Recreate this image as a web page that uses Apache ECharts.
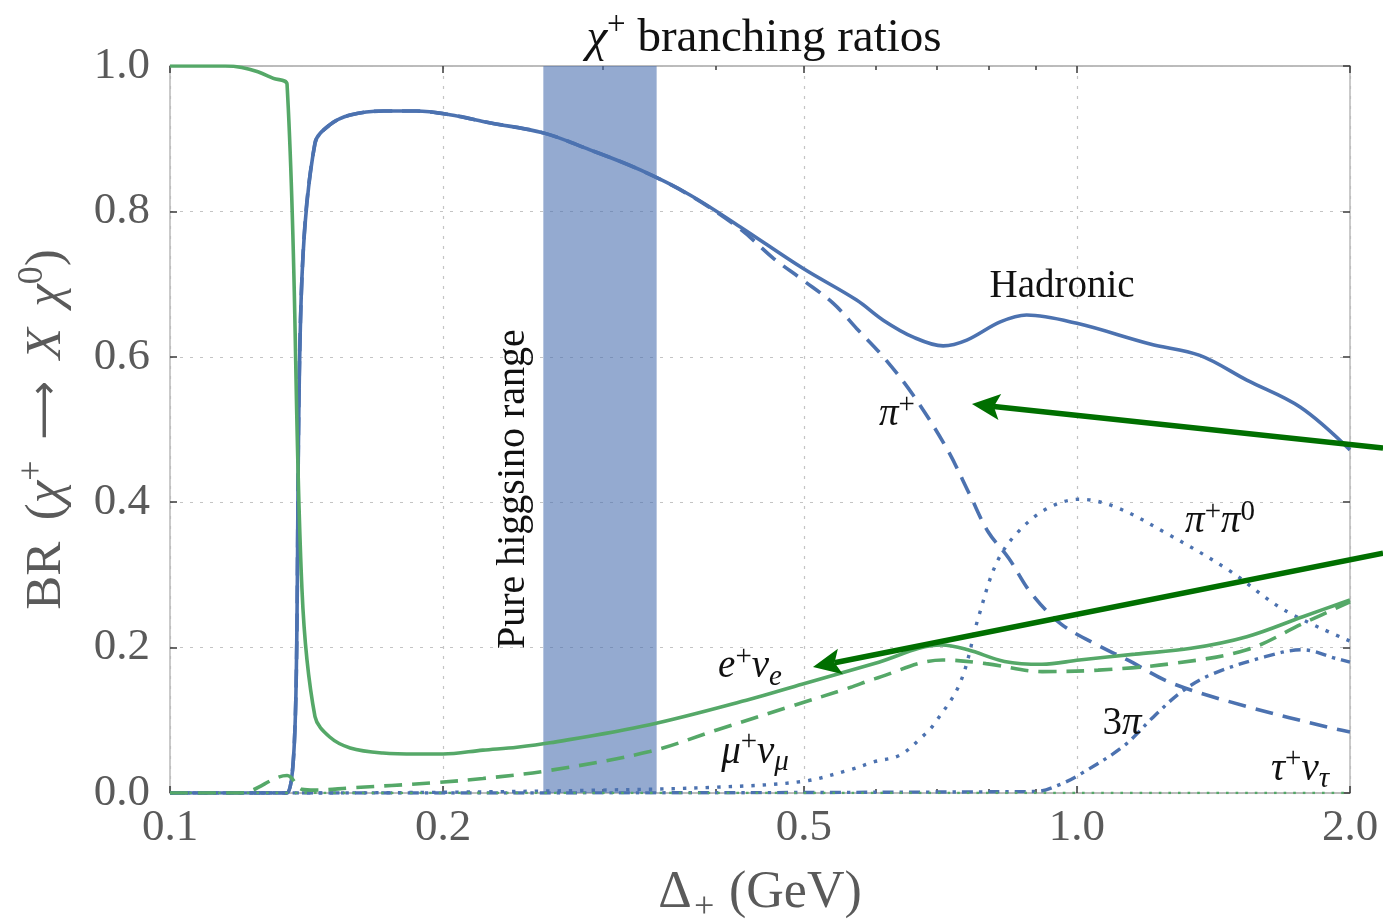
<!DOCTYPE html>
<html>
<head>
<meta charset="utf-8">
<script src="https://cdn.jsdelivr.net/npm/echarts@6/dist/echarts.min.js"></script>
<style>
html,body{margin:0;padding:0;background:#ffffff;}
#chart{width:1383px;height:923px;}
</style>
</head>
<body>
<div id="chart"></div>
<script>
// ---- data (x = Δ+ in GeV, y = branching ratio) ----
const hadronic = [[0.1,0],[0.1346,0],[0.1398,0.71],[0.1445,0.894],[0.150,0.919],[0.158,0.9326],[0.172,0.938],[0.187,0.938],[0.2035,0.933],[0.225,0.922],[0.258,0.908],[0.29,0.885],[0.33,0.857],[0.3744,0.8226],[0.425,0.779],[0.4986,0.7217],[0.5715,0.678],[0.612,0.65],[0.66,0.627],[0.712,0.615],[0.756,0.623],[0.823,0.648],[0.88,0.6575],[1.0,0.646],[1.204,0.6176],[1.366,0.602],[1.539,0.568],[1.762,0.531],[2.0,0.472]];
const piPlus = [[0.1,0],[0.1346,0],[0.1398,0.71],[0.1445,0.894],[0.150,0.919],[0.158,0.9326],[0.172,0.938],[0.187,0.938],[0.2035,0.933],[0.225,0.922],[0.258,0.908],[0.29,0.885],[0.33,0.857],[0.3744,0.822],[0.425,0.776],[0.4627,0.7355],[0.4986,0.7056],[0.5387,0.6735],[0.5715,0.639],[0.6115,0.600],[0.660,0.547],[0.718,0.4746],[0.762,0.41],[0.798,0.3594],[0.841,0.323],[0.890,0.275],[0.959,0.233],[1.044,0.206],[1.137,0.183],[1.273,0.151],[1.539,0.119],[1.913,0.089],[2.0,0.084]];
const piPiZero = [[0.1,0],[0.1398,0],[0.2,0.001],[0.3,0.004],[0.4,0.008],[0.4986,0.016],[0.562,0.032],[0.598,0.043],[0.638,0.052],[0.676,0.078],[0.694,0.093],[0.743,0.151],[0.779,0.2425],[0.815,0.316],[0.858,0.357],[0.926,0.391],[1.006,0.404],[1.1,0.394],[1.26,0.356],[1.468,0.307],[1.691,0.252],[2.0,0.209]];
const threePi = [[0.1,0],[0.1398,0],[0.9,0.002],[0.959,0.012],[1.015,0.028],[1.127,0.065],[1.215,0.105],[1.30,0.138],[1.40,0.162],[1.613,0.1875],[1.774,0.197],[1.931,0.185],[2.0,0.18]];
const eNu = [[0.1,1.0],[0.115,1.0],[0.12,0.998],[0.125,0.992],[0.13,0.983],[0.1346,0.975],[0.1398,0.28],[0.1445,0.105],[0.150,0.077],[0.158,0.062],[0.1717,0.055],[0.1872,0.0536],[0.2,0.0536],[0.2213,0.059],[0.2413,0.063],[0.2624,0.069],[0.338,0.094],[0.436,0.129],[0.4986,0.150],[0.598,0.178],[0.709,0.2036],[0.758,0.197],[0.832,0.181],[0.915,0.177],[1.006,0.183],[1.159,0.191],[1.336,0.199],[1.539,0.215],[1.774,0.2425],[2.0,0.2655]];
const muNu = [[0.1,0],[0.1194,0],[0.1346,0.024],[0.1398,0.005],[0.1445,0.004],[0.158,0.007],[0.195,0.014],[0.2213,0.02],[0.262,0.031],[0.338,0.057],[0.4007,0.0867],[0.483,0.119],[0.562,0.145],[0.598,0.157],[0.711,0.183],[0.794,0.178],[0.915,0.167],[1.055,0.169],[1.273,0.178],[1.539,0.197],[1.774,0.233],[2.0,0.263]];
const tauNu = [[0.1,0],[2.0,0]];
const higgsinoRange = [0.258, 0.344];
const xMajorTicks = [0.1, 0.2, 0.5, 1.0, 2.0];
const xMinorTicks = [0.3, 0.4, 0.6, 0.7, 0.8, 0.9];
const yTicks = [0, 0.2, 0.4, 0.6, 0.8, 1.0];

// ---- style ----
const BLUE = '#4C72B0', GREEN = '#55A868', ARROW = '#006f00';
const SERIF = 'Liberation Serif';
const LABEL_GRAY = '#5a5a5a';
const FRAME = '#b8b8b8';
const TICK = '#3a3a3a';
const SMOOTH = 0.35;
const LW = 3.6;

function richSet(size, color, supRatio, spRatio) {
  const s = Math.round(size * (supRatio || 0.7));
  return {
    r: {fontFamily: SERIF, fontWeight: 'normal', fontSize: size, lineHeight: size * 1.25, color: color},
    m: {fontFamily: SERIF, fontWeight: 'normal', fontStyle: 'italic', fontSize: size, lineHeight: size * 1.25, color: color},
    ar: {fontFamily: 'DejaVu Sans', fontWeight: 'normal', fontSize: size * 0.8, lineHeight: size * 1.25, color: color},
    sp: {fontFamily: SERIF, fontSize: size, lineHeight: size * 1.25, width: size * (spRatio || 0.3), color: color},
    sup: {fontFamily: SERIF, fontWeight: 'normal', fontSize: s, lineHeight: s, verticalAlign: 'top', color: color},
    sub: {fontFamily: SERIF, fontWeight: 'normal', fontStyle: 'italic', fontSize: s, lineHeight: s, verticalAlign: 'bottom', color: color}
  };
}

const gridBox = {left: 170, right: 33, top: 66, bottom: 130, containLabel: false, outerBoundsMode: 'none'};

function xAxisBase(pos, ticks, len, extra) {
  return Object.assign({
    type: 'log', logBase: 10, min: 0.1, max: 2.0, gridIndex: 0, position: pos,
    axisLine: {show: true, onZero: false, lineStyle: {color: FRAME, width: 1.5}},
    axisTick: {show: true, inside: true, length: len, customValues: ticks, lineStyle: {color: TICK, width: 1.5}},
    axisLabel: {show: false},
    splitLine: {show: false}
  }, extra || {});
}

const option = {
  backgroundColor: '#ffffff',
  animation: false,
  title: {
    text: '{m|χ}{sup|+}{r| branching ratios}',
    left: 759, top: 4, textAlign: 'center',
    textStyle: {fontWeight: 'normal', rich: richSet(47, '#111111')}
  },
  grid: [gridBox, Object.assign({}, gridBox)],
  xAxis: [
    xAxisBase('bottom', xMajorTicks, 7, {
      axisLabel: {show: true, customValues: xMajorTicks, formatter: v => Number(v).toFixed(1),
        fontFamily: SERIF, fontSize: 45, color: LABEL_GRAY, margin: 13},
      splitLine: {show: true, lineStyle: {color: '#c4c4c4', width: 1.2, type: [3, 7]}},
      name: '{r|Δ}{sub|+}{r| (GeV)}', nameLocation: 'middle', nameGap: 68,
      nameTextStyle: {rich: richSet(52, LABEL_GRAY)}
    }),
    xAxisBase('top', xMajorTicks, 7),
    Object.assign(xAxisBase('bottom', xMinorTicks, 4), {gridIndex: 1}),
    Object.assign(xAxisBase('top', xMinorTicks, 4), {gridIndex: 1})
  ],
  yAxis: [
    {
      type: 'value', min: 0, max: 1, interval: 0.2, gridIndex: 0, position: 'left',
      axisLine: {show: true, onZero: false, lineStyle: {color: FRAME, width: 1.5}},
      axisTick: {show: true, inside: true, length: 7, lineStyle: {color: TICK, width: 1.5}},
      axisLabel: {formatter: v => v.toFixed(1), fontFamily: SERIF, fontSize: 45, color: LABEL_GRAY, margin: 20},
      splitLine: {show: true, lineStyle: {color: '#c4c4c4', width: 1.2, type: [3, 7]}},
      name: '{r|BR}{sp|}{r|(}{m|χ}{sup|+}{sp|}{ar|⟶}{sp|}{m|X}{sp|}{m|χ}{sup|0}{r|)}', nameLocation: 'middle', nameGap: 92,
      nameTextStyle: {rich: richSet(51, LABEL_GRAY, 0.7, 0.42)}
    },
    {
      type: 'value', min: 0, max: 1, interval: 0.2, gridIndex: 0, position: 'right',
      axisLine: {show: true, onZero: false, lineStyle: {color: FRAME, width: 1.5}},
      axisTick: {show: true, inside: true, length: 7, lineStyle: {color: TICK, width: 1.5}},
      axisLabel: {show: false}, splitLine: {show: false}
    },
    {type: 'value', min: 0, max: 1, gridIndex: 1, show: false}
  ],
  series: [
    {
      name: 'Hadronic', type: 'line', xAxisIndex: 0, yAxisIndex: 0, data: hadronic,
      showSymbol: false, smooth: SMOOTH, z: 3,
      lineStyle: {color: BLUE, width: LW},
      markArea: {silent: true, z: 1, itemStyle: {color: BLUE, opacity: 0.6},
        data: [[{xAxis: higgsinoRange[0]}, {xAxis: higgsinoRange[1]}]]}
    },
    {
      name: 'π+', type: 'line', data: piPlus, showSymbol: false, smooth: SMOOTH, z: 3,
      lineStyle: {color: BLUE, width: LW, type: [18, 10]}
    },
    {
      name: 'π+π0', type: 'line', data: piPiZero, showSymbol: false, smooth: SMOOTH, z: 3,
      lineStyle: {color: BLUE, width: 3.4, type: [3.4, 8]}
    },
    {
      name: '3π', type: 'line', data: threePi, showSymbol: false, smooth: SMOOTH, z: 3,
      lineStyle: {color: BLUE, width: 3.4, type: [11, 6, 3.4, 6]}
    },
    {
      name: 'e+νe', type: 'line', data: eNu, showSymbol: false, smooth: SMOOTH, z: 3,
      lineStyle: {color: GREEN, width: LW}
    },
    {
      name: 'μ+νμ', type: 'line', data: muNu, showSymbol: false, smooth: SMOOTH, z: 3,
      lineStyle: {color: GREEN, width: LW, type: [18, 10]}
    },
    {
      name: 'τ+ντ', type: 'line', data: tauNu, showSymbol: false, z: 3,
      lineStyle: {color: GREEN, width: 2.6, type: [2.6, 7]}
    }
  ]
};

const chart = echarts.init(document.getElementById('chart'), null, {renderer: 'canvas'});
chart.setOption(option);

// ---- annotations placed in data coordinates ----
const P = (x, y) => chart.convertToPixel({gridIndex: 0}, [x, y]);
const labels = [
  {at: [0.963, 0.696], text: '{r|Hadronic}'},
  {at: [0.633, 0.52], text: '{m|π}{sup|+}'},
  {at: [1.438, 0.373], text: '{m|π}{sup|+}{m|π}{sup|0}'},
  {at: [0.436, 0.173], text: '{m|e}{sup|+}{m|ν}{sub|e}'},
  {at: [0.4416, 0.056], text: '{m|μ}{sup|+}{m|ν}{sub|μ}'},
  {at: [1.121, 0.095], text: '{r|3}{m|π}'},
  {at: [1.762, 0.032], text: '{m|τ}{sup|+}{m|ν}{sub|τ}'}
];
const arrows = [
  {from: [2.175, 0.4746], to: [0.766, 0.535]},
  {from: [2.175, 0.330], to: [0.5116, 0.1733]}
];

function gRich(size, color) {
  const rs = richSet(size, color, 0.74);
  const out = {};
  Object.keys(rs).forEach(k => {
    const o = Object.assign({}, rs[k]);
    o.fill = o.color; delete o.color;
    out[k] = o;
  });
  return out;
}

const graphics = [];
labels.forEach(l => {
  const p = P(l.at[0], l.at[1]);
  graphics.push({type: 'text', x: p[0], y: p[1], z: 10,
    style: {text: l.text, rich: gRich(39, '#111111'), align: 'center', verticalAlign: 'middle'}});
});
{
  const p = P(0.2389, 0.418);
  graphics.push({type: 'text', x: p[0], y: p[1], rotation: Math.PI / 2, z: 10,
    style: {text: 'Pure higgsino range', fontFamily: SERIF, fontSize: 40, fill: '#111111', align: 'center', verticalAlign: 'middle'}});
}
arrows.forEach(a => {
  const s = P(a.from[0], a.from[1]), t = P(a.to[0], a.to[1]);
  const dx = t[0] - s[0], dy = t[1] - s[1], len = Math.hypot(dx, dy);
  const ux = dx / len, uy = dy / len, nx = -uy, ny = ux;
  const L = 28, W = 13, N = 6;
  const bx = t[0] - ux * L, by = t[1] - uy * L;
  const kx = t[0] - ux * (L - N), ky = t[1] - uy * (L - N);
  graphics.push({type: 'line', z: 20, shape: {x1: s[0], y1: s[1], x2: kx, y2: ky},
    style: {stroke: ARROW, lineWidth: 5.5}});
  graphics.push({type: 'polygon', z: 20, shape: {points: [[t[0], t[1]], [bx + nx * W, by + ny * W], [kx, ky], [bx - nx * W, by - ny * W]]},
    style: {fill: ARROW}});
});
chart.setOption({graphic: graphics});
</script>
</body>
</html>
